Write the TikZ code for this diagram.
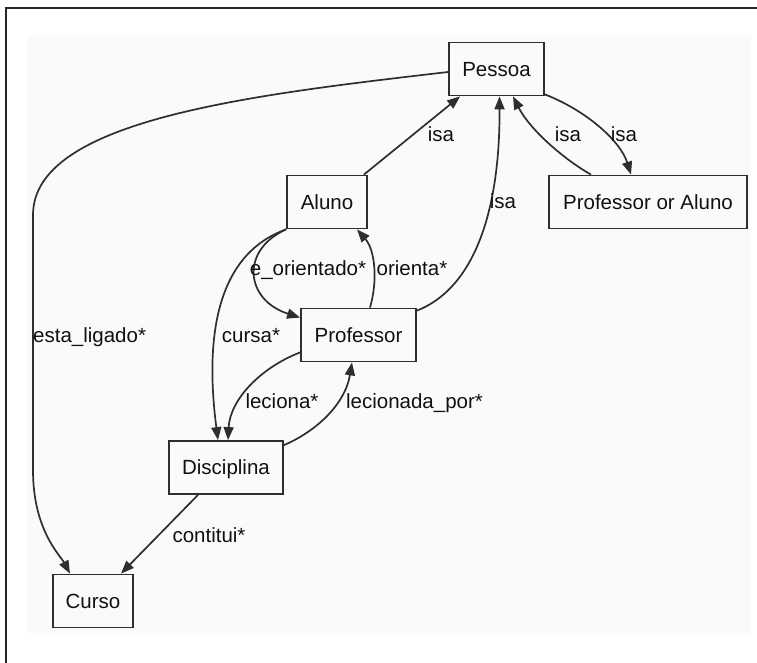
\documentclass[tikz,border=0pt]{standalone}
\usepackage{fontspec}
\setmainfont{Liberation Sans}
\usetikzlibrary{arrows.meta,calc}
\definecolor{ink}{HTML}{2E2E2E}
\definecolor{txt}{HTML}{111111}
\definecolor{paper}{HTML}{FAFAFA}

\begin{document}
\begin{tikzpicture}[x=1pt,y=-1pt,
  entity/.style={draw=ink,line width=1.8pt,minimum height=53pt,inner sep=0pt,
    text=txt,font=\fontsize{20.5}{24}\selectfont,text height=14.7pt,text depth=0pt},
  rel/.style={draw=ink,line width=1.7pt,-{Triangle[length=13pt,width=10pt]}},
  lbl/.style={text=txt,font=\fontsize{20.5}{24}\selectfont,inner sep=0pt,anchor=base}]

% page, canvas and frame
\useasboundingbox (0,0) rectangle (757,663);
\fill[white] (0,0) rectangle (757,663);
\fill[paper] (27,35) rectangle (751,633);
\draw[line width=2pt,black!85] (6,663) -- (6,8) -- (757,8);

% classes
\node[entity,minimum width=95pt]  (pessoa)     at (496.5,69)  {Pessoa};
\node[entity,minimum width=80pt]  (aluno)      at (327,202)   {Aluno};
\node[entity,minimum width=198pt] (poa)        at (648,202)   {Professor or Aluno};
\node[entity,minimum width=115pt] (professor)  at (358.5,335) {Professor};
\node[entity,minimum width=114pt] (disciplina) at (226,467.5) {Disciplina};
\node[entity,minimum width=80pt]  (curso)      at (93,601)    {Curso};

% relations
\draw[rel] ($(pessoa.west)+(0,3)$) .. controls (250,95) and (33,120) .. (33,215)
  -- (33,470) .. controls (33,530) and (60,555) .. ($(curso.north)+(-23,0)$);
\draw[rel] ($(aluno.north east)+(-4,0)$) -- ($(pessoa.south west)+(12,0)$);
\draw[rel] ($(professor.north east)+(0,3)$) .. controls (470,290) and (500,220) .. ($(pessoa.south)+(3,0)$);
\draw[rel] ($(poa.north)+(-57,0)$) .. controls (565,160) and (530,130) .. ($(pessoa.south)+(16.5,0)$);
\draw[rel] ($(pessoa.south east)+(0,-2)$) .. controls (585,110) and (620,140) .. ($(poa.north)+(-17,0)$);
\draw[rel] (aluno.south west) .. controls (240,250) and (245,300) .. ($(professor.north west)+(0,10)$);
\draw[rel] ($(professor.north)+(11.5,0)$) .. controls (378,280) and (375,250) .. ($(aluno.south)+(30,0)$);
\draw[rel] (aluno.south west) .. controls (215,255) and (205,340) .. ($(disciplina.north)+(-8,0)$);
\draw[rel] ($(professor.south west)+(0,-10)$) .. controls (260,368) and (230,400) .. ($(disciplina.north)+(2,0)$);
\draw[rel] ($(disciplina.north east)+(0,5)$) .. controls (315,432) and (345,405) .. ($(professor.south)+(-6.5,0)$);
\draw[rel] ($(disciplina.south)+(-28,0)$) -- ($(curso.north)+(28,0)$);

% relation labels
\node[lbl,anchor=base west] (l-esta) at (33,342) {esta\_ligado*};
\node[lbl] (l-isa1)  at (441,142)   {isa};
\node[lbl] (l-isa2)  at (503,208)   {isa};
\node[lbl] (l-isa3)  at (568,142)   {isa};
\node[lbl] (l-isa4)  at (624,142)   {isa};
\node[lbl] (l-eor)   at (308,275)   {e\_orientado*};
\node[lbl] (l-ori)   at (412,275)   {orienta*};
\node[lbl] (l-cursa) at (251,342)   {cursa*};
\node[lbl] (l-lec)   at (282,408)   {leciona*};
\node[lbl] (l-lecp)  at (414.5,408) {lecionada\_por*};
\node[lbl] (l-cont)  at (209,542)   {contitui*};
\end{tikzpicture}
\end{document}
